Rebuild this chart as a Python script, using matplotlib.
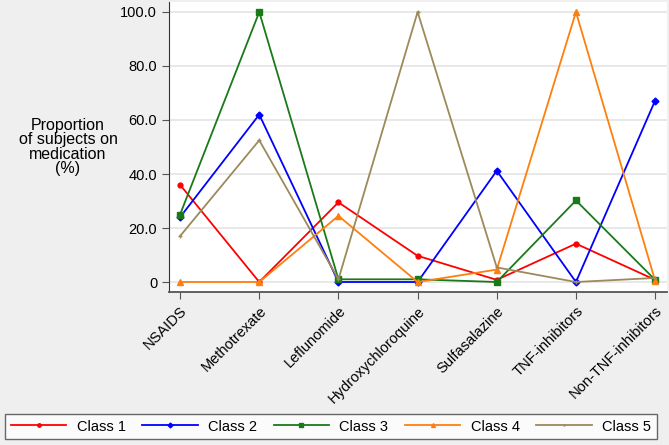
import numpy as np
import matplotlib
matplotlib.use("Agg")
import matplotlib.pyplot as plt

# Data
medications = ["NSAIDS", "Methotrexate", "Leflunomide", "Hydroxychloroquine",
               "Sulfasalazine", "TNF-inhibitors", "Non-TNF-inhibitors"]
class1 = [36.0, 0.0, 29.5, 9.7, 0.8, 14.2, 0.8]
class2 = [24.0, 62.0, 0.0, 0.0, 41.2, 0.0, 67.2]
class3 = [25.0, 100.0, 1.0, 1.0, 0.0, 30.2, 0.8]
class4 = [0.0, 0.0, 24.5, 0.0, 4.6, 100.0, 0.5]
class5 = [17.0, 52.5, 1.0, 100.0, 5.4, 0.0, 1.5]
labels = ["Class 1", "Class 2", "Class 3", "Class 4", "Class 5"]
yticks = [0, 20, 40, 60, 80, 100]

plt.rc('font', family='Liberation Sans', size=10.5)

fig = plt.figure(figsize=(6.69, 4.45), dpi=100, facecolor='#efefef')
ax = fig.add_axes([169/669, 1 - 292/445, (667-169)/669, (292-2)/445])
ax.set_facecolor('white')

x = np.arange(len(medications))
styles = [
    ('#ff0000', 'o', 3.5),
    ('#0000ff', 'D', 3.5),
    ('#1a7a1a', 's', 3.8),
    ('#ff7f0e', '^', 4.0),
    ('#9c8a5a', '+', 3.0),
]
for vals, lab, (c, m, ms) in zip([class1, class2, class3, class4, class5], labels, styles):
    ax.plot(x, vals, color=c, marker=m, markersize=ms, linewidth=1.3, label=lab)

ax.set_xlim(-0.14, 6.15)
ax.set_ylim(-3.7, 103.7)
ax.set_yticks(yticks)
ax.set_yticklabels(["0"] + ["%.1f" % v for v in yticks[1:]])
ax.set_xticks(x)
ax.set_xticklabels(medications, rotation=45, ha='right', rotation_mode='anchor')
ax.yaxis.grid(True, color='#e4e4e4', linewidth=1.2)
ax.set_axisbelow(True)

for s in ['top', 'right']:
    ax.spines[s].set_visible(False)
ax.spines['left'].set_color('#333333')
ax.spines['bottom'].set_color('#555555')
ax.spines['bottom'].set_linewidth(1.3)
ax.tick_params(axis='both', length=5, color='#555555', labelsize=10.5)

fig.text(68/669, 1 - 147/445, "Proportion\nof subjects on\nmedication\n(%)",
         ha='center', va='center', fontsize=11.5, linespacing=0.95)

leg = fig.legend(loc='lower center', bbox_to_anchor=(331/669, 0.006), ncol=5,
                 frameon=True, fancybox=False, edgecolor='#444444',
                 fontsize=10.5, handlelength=3.8, handletextpad=0.7,
                 columnspacing=1.15, borderpad=0.4, borderaxespad=0.2,
                 markerscale=0.7)
leg.get_frame().set_linewidth(1.0)

fig.savefig("out.png", dpi=100, facecolor=fig.get_facecolor())
